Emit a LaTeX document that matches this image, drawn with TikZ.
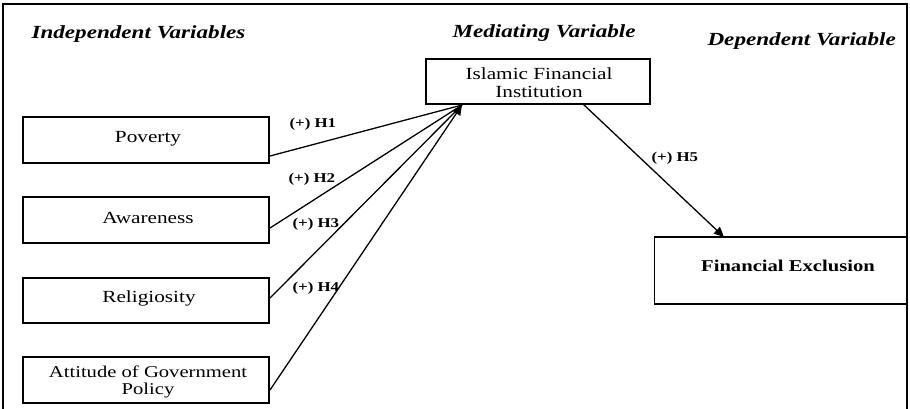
\documentclass[tikz,border=0pt]{standalone}
\usepackage{fontspec}
\setmainfont[FakeStretch=1.25]{Liberation Serif}
\usetikzlibrary{arrows.meta}
\begin{document}
\begin{tikzpicture}[x=1pt,y=-1pt,
  box/.style={draw=black,line width=1.2pt,inner sep=0pt},
  boxtext/.style={font=\fontsize{17}{20}\selectfont,align=center},
  title/.style={font=\fontsize{18.5}{21}\selectfont\bfseries\itshape,anchor=west},
  hlab/.style={font=\fontsize{13.5}{15}\selectfont\bfseries,anchor=west},
  conn/.style={line width=1.3pt,-{Triangle[length=10pt,width=9pt]}},
  plain/.style={line width=1.3pt}]
\useasboundingbox (0,0) rectangle (910,408);
\draw[line width=1.5pt] (3,420) -- (3,4) -- (907,4) -- (907,420);
% titles
\node[title] (t1) at (28,34) {Independent Variables};
\node[title] (t2) at (449,33) {Mediating Variable};
\node[title] (t3) at (704,41) {Dependent Variable};
% boxes
\node[box,minimum width=246pt,minimum height=46pt] (pov) at (146,140) {};
\node[boxtext] at (148,139) {Poverty};
\node[box,minimum width=246pt,minimum height=46pt] (awa) at (146,220) {};
\node[boxtext] at (148,218) {Awareness};
\node[box,minimum width=246pt,minimum height=45pt] (rel) at (146,300.5) {};
\node[boxtext] at (149,298) {Religiosity};
\node[box,minimum width=246pt,minimum height=46pt] (att) at (146,380) {};
\node[boxtext,font=\fontsize{16.5}{20}\selectfont] at (148,382) {Attitude of Government\\[-3pt]Policy};
\node[box,minimum width=224pt,minimum height=45pt] (ifi) at (538,81.5) {};
\node[boxtext] at (539,83) {Islamic Financial\\[-2pt]Institution};
\node[box,minimum width=252pt,minimum height=67pt] (fe) at (780.5,270.5) {};
\node[boxtext,font=\fontsize{16.5}{20}\selectfont\bfseries] at (788,266) {Financial Exclusion};
% connectors
\coordinate (tip) at (462,105);
\coordinate (p1) at (270,156);
\coordinate (p2) at (270,228);
\coordinate (p3) at (270,298);
\coordinate (p4) at (270,390);
\draw[plain] (p1) -- (tip);
\draw[plain] (p2) -- (tip);
\draw[plain] (p3) -- (tip);
\draw[conn] (p4) -- (tip);
\coordinate (h5s) at (583,104);
\coordinate (h5e) at (724,237);
\draw[conn] (h5s) -- (h5e);
% labels
\node[hlab] (l1) at (286,124) {(+) H1};
\node[hlab] (l2) at (285,179) {(+) H2};
\node[hlab] (l3) at (289,224) {(+) H3};
\node[hlab] (l4) at (289,288) {(+) H4};
\node[hlab] (l5) at (648,158) {(+) H5};
\end{tikzpicture}
\end{document}
